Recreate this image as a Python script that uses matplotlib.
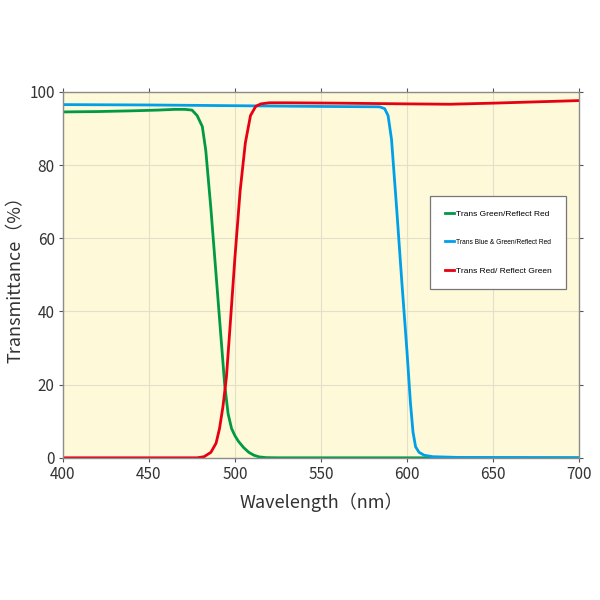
import matplotlib.pyplot as plt
from matplotlib.ticker import MultipleLocator

plt.rcParams['font.family'] = ['Noto Sans CJK SC', 'DejaVu Sans']

# Trans Green/Reflect Red
green_x = [400, 420, 440, 455, 465, 471, 475, 478, 481, 483, 486, 489, 492, 494, 496, 498,
           500, 502, 505, 508, 511, 514, 518, 525, 700]
green_y = [94.5, 94.6, 94.8, 95.0, 95.2, 95.2, 95.0, 93.5, 90.5, 84, 68, 50, 32, 20, 12, 8,
           6.0, 4.5, 2.8, 1.5, 0.7, 0.25, 0.05, 0, 0]

# Trans Blue & Green/Reflect Red
blue_x = [400, 450, 500, 550, 584, 587, 589, 591, 594, 597, 600, 602, 603.5, 605, 607, 610,
          615, 630, 700]
blue_y = [96.5, 96.4, 96.2, 96.0, 95.9, 95.4, 93.5, 87, 68, 48, 29, 15, 7, 3.0, 1.5, 0.7,
          0.3, 0.1, 0]

# Trans Red/ Reflect Green
red_x = [400, 478, 482, 486, 489, 491, 493, 495, 497, 500, 503, 506, 509, 512, 515, 520,
         530, 560, 600, 625, 650, 700]
red_y = [0, 0, 0.3, 1.5, 4, 8, 14, 22, 35, 55, 73, 86, 93.5, 96.0, 96.7, 97.0,
         97.0, 96.9, 96.7, 96.6, 96.9, 97.6]

fig = plt.figure(figsize=(6, 6), dpi=100)
ax = fig.add_axes([0.105, 0.237, 0.86, 0.61])
ax.set_facecolor('#FEF9D8')

ax.plot(green_x, green_y, color='#009944', lw=2.0, label='Trans Green/Reflect Red')
ax.plot(blue_x, blue_y, color='#00A0E9', lw=2.0, label='Trans Blue & Green/Reflect Red')
ax.plot(red_x, red_y, color='#E60012', lw=2.0, label='Trans Red/ Reflect Green')

ax.set_xlim(400, 700)
ax.set_ylim(0, 100)
ax.xaxis.set_major_locator(MultipleLocator(50))
ax.yaxis.set_major_locator(MultipleLocator(20))
ax.grid(True, color='#E2DFCB', lw=0.8)
ax.set_axisbelow(True)

for s in ax.spines.values():
    s.set_color('#8C8C8C')
    s.set_linewidth(1.0)

ax.tick_params(axis='both', labelsize=11, labelcolor='#333333', color='#555555', length=3)
ax.tick_params(axis='x', top=True, direction='out', pad=3)
ax.tick_params(axis='y', right=True, direction='out', pad=3)

ax.set_xlabel('Wavelength（nm）', fontsize=13, color='#333333', labelpad=7)
ax.set_ylabel('Transmittance（%）', fontsize=13, color='#333333', labelpad=3)

leg = ax.legend(loc='upper left', bbox_to_anchor=(0.704, 0.728), fancybox=False,
                framealpha=1, edgecolor='#777777', handlelength=1.1, handletextpad=0.3,
                borderpad=1.7, labelspacing=2.5,
                prop={'family': 'Liberation Sans', 'size': 6.0})
leg.get_frame().set_linewidth(0.9)
leg.get_texts()[1].set_fontsize(4.8)

fig.savefig('out.png', dpi=100)
